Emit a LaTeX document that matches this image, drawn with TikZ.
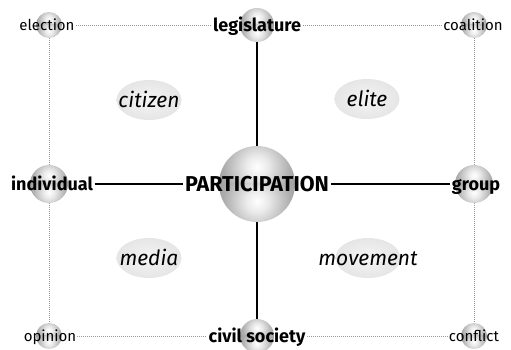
\documentclass[tikz,border=0pt]{standalone}
\usepackage{fontspec}
\setmainfont{Fira Sans}
\usetikzlibrary{calc,shapes.geometric}
\pgfdeclareradialshading{hemi}{\pgfpoint{0bp}{0bp}}{color(0bp)=(white); color(6bp)=(white!92!black); color(18bp)=(white!68!black); color(34bp)=(white!50!black); color(50bp)=(white!40!black); color(72bp)=(white!40!black)}
\pgfdeclareradialshading{blobsh}{\pgfpoint{0bp}{0bp}}{color(0bp)=(white!96!black); color(25bp)=(white!90!black); color(50bp)=(white!78!black); color(72bp)=(white!78!black)}
\tikzset{
  ball/.style={circle, inner sep=0pt, minimum size=2*#1, path picture={
    \coordinate (pc) at (path picture bounding box.center);
    \begin{scope}
      \clip ($(pc)+(-#1,0)$) rectangle ($(pc)+(#1,#1)$);
      \shade[shading=hemi] ($(pc)+(-1.2*#1,-0.75*#1)$) rectangle ($(pc)+(1.2*#1,1.65*#1)$);
    \end{scope}
    \begin{scope}
      \clip ($(pc)+(-#1,0)$) rectangle ($(pc)+(#1,-#1)$);
      \shade[shading=hemi] ($(pc)+(-1.2*#1,0.75*#1)$) rectangle ($(pc)+(1.2*#1,-1.65*#1)$);
    \end{scope}
  }},
  blob/.style={ellipse, minimum width=65pt, minimum height=40pt, inner sep=0pt, shading=blobsh},
  reg/.style={inner sep=1pt, font=\fontsize{15}{17}\selectfont, text height=10.5pt, text depth=0pt},
  bld/.style={inner sep=1.5pt, font=\fontsize{18}{20}\selectfont\bfseries, text height=13pt, text depth=0pt},
  big/.style={inner sep=2pt, font=\fontsize{21.5}{24}\selectfont\bfseries, text height=15pt, text depth=0pt},
  itl/.style={inner sep=0pt, font=\fontsize{21}{23}\selectfont\itshape, text height=15pt, text depth=0pt},
  dots/.style={draw=black!40, line width=0.8pt, dash pattern=on 0.8pt off 1.2pt},
  solid line/.style={draw=black, line width=1.3pt},
}
\begin{document}
\begin{tikzpicture}[x=1pt,y=1pt]
\useasboundingbox (0,0) rectangle (511,350);
% ellipses
\node[blob] (eCit) at (149,250) {};
\node[blob] (eEli) at (367,251) {};
\node[blob] (eMed) at (149,92) {};
\node[blob] (eMov) at (368,92) {};
\node[itl] (tCit) at (eCit) {citizen};
\node[itl] (tEli) at (eEli) {elite};
\node[itl] (tMed) at (eMed) {media};
\node[itl] (tMov) at (eMov) {movement};
% balls
\node[ball=13pt] (bE) at (49,325) {};
\node[ball=17pt] (bL) at (257,325) {};
\node[ball=13pt] (bC) at (474,325) {};
\node[ball=19pt] (bI) at (49,166) {};
\node[ball=38pt] (bP) at (257,166) {};
\node[ball=19pt] (bG) at (474,166) {};
\node[ball=13pt] (bO) at (49,14) {};
\node[ball=17pt] (bS) at (257,14) {};
\node[ball=13pt] (bF) at (474,14) {};
% labels
\node[reg] (tE) at (47,325) {election};
\node[bld] (tL) at (257,325) {legislature};
\node[reg] (tC) at (473,325) {coalition};
\node[bld] (tI) at (52,166) {individual};
\node[big] (tP) at (257,166) {PARTICIPATION};
\node[bld] (tG) at (476,166) {group};
\node[reg] (tO) at (50,14) {opinion};
\node[bld] (tS) at (257,14) {civil society};
\node[reg] (tF) at (474,14) {conflict};
% connectors
\draw[dots] (tE) -- (tL);
\draw[dots] (tL) -- (tC);
\draw[dots] (tO) -- (tS);
\draw[dots] (tS) -- (tF);
\draw[dots] (bE) -- (bI);
\draw[dots] (bI) -- (bO);
\draw[dots] (bC) -- (bG);
\draw[dots] (bG) -- (bF);
\draw[solid line] (tI) -- (tP);
\draw[solid line] (tP) -- (tG);
\draw[solid line] (bL) -- (bP);
\draw[solid line] (bP) -- (bS);
\end{tikzpicture}
\end{document}
